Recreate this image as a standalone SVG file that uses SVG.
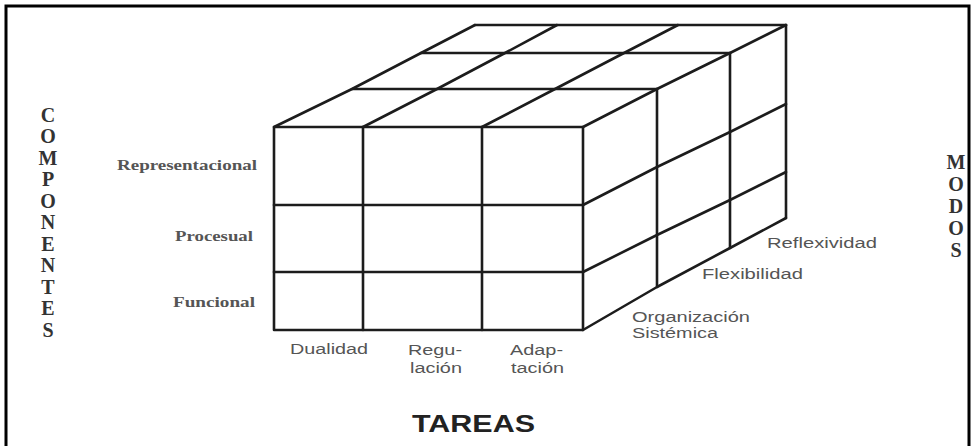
<svg xmlns="http://www.w3.org/2000/svg" width="971" height="446" viewBox="0 0 971 446">
<style>
.ln{fill:none;stroke:#1c1c1c;stroke-width:2.6;stroke-linejoin:round;stroke-linecap:round}
.lbl{font-family:"Liberation Sans",Arial,sans-serif;font-size:14px;fill:#555}
.slbl{font-family:"Liberation Serif","Times New Roman",serif;font-size:14px;font-weight:bold;fill:#555}
.vert{font-family:"Liberation Serif","Times New Roman",serif;font-size:20px;font-weight:bold;fill:#333;text-anchor:middle}
.title{font-family:"Liberation Sans",Arial,sans-serif;font-size:23px;font-weight:bold;fill:#222}
</style>
<rect x="0" y="0" width="971" height="446" fill="#fff"/>
<path d="M6,450 V6 H969 V450" fill="none" stroke="#000" stroke-width="3"/>

<g id="cube" class="ln">
  <!-- front face -->
  <rect x="274" y="127" width="309" height="203"/>
  <line x1="363" y1="127" x2="363" y2="330"/>
  <line x1="482" y1="127" x2="482" y2="330"/>
  <line x1="274" y1="205" x2="583" y2="205"/>
  <line x1="274" y1="272" x2="583" y2="272"/>
  <!-- top face -->
  <polyline points="274,127 352,89 421,53 475,25"/>
  <polyline points="363,127 437,89 505,53 557,25"/>
  <polyline points="482,127 555,89 624,53 678,25"/>
  <polyline points="583,127 657,89 730,53 786,25"/>
  <line x1="352" y1="89" x2="657" y2="89"/>
  <line x1="421" y1="53" x2="730" y2="53"/>
  <line x1="475" y1="25" x2="786" y2="25"/>
  <!-- right face -->
  <line x1="657" y1="89" x2="657" y2="287"/>
  <line x1="730" y1="53" x2="730" y2="248"/>
  <line x1="786" y1="25" x2="786" y2="218"/>
  <polyline points="583,205 657,167 730,132 786,104"/>
  <polyline points="583,272 657,235 730,200 786,172"/>
  <polyline points="583,330 657,287 730,248 786,218"/>
</g>

<g id="componentes">
  <text class="slbl" x="257" y="170" text-anchor="end" textLength="140" lengthAdjust="spacingAndGlyphs">Representacional</text>
  <text class="slbl" x="253" y="241" text-anchor="end" textLength="78" lengthAdjust="spacingAndGlyphs">Procesual</text>
  <text class="slbl" x="255" y="307" text-anchor="end" textLength="82" lengthAdjust="spacingAndGlyphs">Funcional</text>
</g>

<g id="tareas">
  <text class="lbl" x="290" y="354" textLength="78" lengthAdjust="spacingAndGlyphs">Dualidad</text>
  <text class="lbl" x="408" y="355" textLength="54" lengthAdjust="spacingAndGlyphs">Regu-</text>
  <text class="lbl" x="410" y="373" textLength="52" lengthAdjust="spacingAndGlyphs">lación</text>
  <text class="lbl" x="510" y="355" textLength="53" lengthAdjust="spacingAndGlyphs">Adap-</text>
  <text class="lbl" x="511" y="373" textLength="53" lengthAdjust="spacingAndGlyphs">tación</text>
</g>

<g id="modos">
  <text class="lbl" x="767" y="248" textLength="110" lengthAdjust="spacingAndGlyphs">Reflexividad</text>
  <text class="lbl" x="702" y="279" textLength="101" lengthAdjust="spacingAndGlyphs">Flexibilidad</text>
  <text class="lbl" x="632" y="322" textLength="118" lengthAdjust="spacingAndGlyphs">Organización</text>
  <text class="lbl" x="632" y="338" textLength="86" lengthAdjust="spacingAndGlyphs">Sistémica</text>
</g>

<g id="axis-componentes">
  <text class="vert" x="48" y="122">C</text>
  <text class="vert" x="48" y="143">O</text>
  <text class="vert" x="48" y="165">M</text>
  <text class="vert" x="48" y="186">P</text>
  <text class="vert" x="48" y="208">O</text>
  <text class="vert" x="48" y="229">N</text>
  <text class="vert" x="48" y="251">E</text>
  <text class="vert" x="48" y="272">N</text>
  <text class="vert" x="48" y="294">T</text>
  <text class="vert" x="48" y="315">E</text>
  <text class="vert" x="48" y="337">S</text>
</g>

<g id="axis-modos">
  <text class="vert" x="956" y="169">M</text>
  <text class="vert" x="956" y="191">O</text>
  <text class="vert" x="956" y="213">D</text>
  <text class="vert" x="956" y="235">O</text>
  <text class="vert" x="956" y="257">S</text>
</g>

<g id="axis-tareas">
  <text class="title" x="412" y="432" textLength="123" lengthAdjust="spacingAndGlyphs">TAREAS</text>
</g>
</svg>
